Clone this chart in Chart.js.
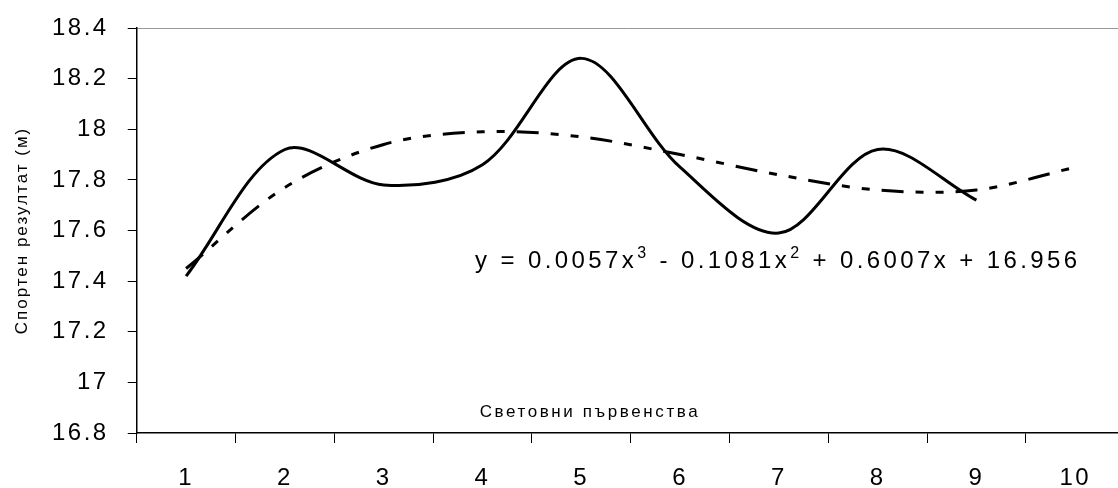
<!DOCTYPE html>
<html>
<head>
<meta charset="utf-8">
<script src="https://cdn.jsdelivr.net/npm/chart.js@4/dist/chart.umd.min.js"></script>
<style>
    html, body { margin: 0; padding: 0; background: #fff; overflow: hidden; }
    #chart { display: block; width: 1118px; height: 488px; }
</style>
</head>
<body>
<canvas id="chart" width="1118" height="488"></canvas>
<script>
// Chart data
const categories = ['1', '2', '3', '4', '5', '6', '7', '8', '9', '10'];
const results = [17.42, 17.92, 17.78, 17.86, 18.28, 17.85, 17.59, 17.92, 17.72, null];
const trendValues = [17.45, 17.77, 17.94, 17.99, 17.97, 17.90, 17.82, 17.76, 17.76, 17.85];
const yTicks = [16.8, 17, 17.2, 17.4, 17.6, 17.8, 18, 18.2, 18.4];

const FONT = 'Arial, "Liberation Sans", sans-serif';

// Excel draws its text with wide letter spacing
const spacingPlugin = {
    id: 'spacing',
    beforeLayout(chart) { chart.ctx.letterSpacing = '2.5px'; },
    beforeDraw(chart) { chart.ctx.letterSpacing = '2.5px'; }
};

// Axis titles and trendline equation
const textPlugin = {
    id: 'texts',
    afterDraw(chart) {
        const ctx = chart.ctx;
        const area = chart.chartArea;
        ctx.save();
        ctx.fillStyle = '#000';

        // y axis title
        ctx.font = '17px ' + FONT;
        ctx.letterSpacing = '2px';
        ctx.textAlign = 'center';
        ctx.textBaseline = 'middle';
        ctx.save();
        ctx.translate(22, (area.top + area.bottom) / 2);
        ctx.rotate(-Math.PI / 2);
        ctx.fillText('Спортен резултат (м)', 0, 0);
        ctx.restore();

        // x axis title, inside the plot
        ctx.letterSpacing = '2.6px';
        ctx.fillText('Световни първенства', 590, 412);

        // equation with superscripts
        const parts = [
            ['y = 0.0057x', false], ['3', true],
            [' - 0.1081x', false], ['2', true],
            [' + 0.6007x + 16.956', false]
        ];
        ctx.textAlign = 'left';
        ctx.textBaseline = 'alphabetic';
        ctx.letterSpacing = '3.4px';
        let x = 475;
        const base = 268;
        parts.forEach(([txt, sup]) => {
            ctx.font = (sup ? '16px ' : '24px ') + FONT;
            ctx.fillText(txt, x, sup ? base - 10 : base);
            x += ctx.measureText(txt).width;
        });
        ctx.restore();
    }
};

const ctx = document.getElementById('chart').getContext('2d');
new Chart(ctx, {
    type: 'line',
    data: {
        labels: categories,
        datasets: [
            {
                label: 'Резултат',
                data: results,
                borderColor: '#000',
                borderWidth: 3,
                pointRadius: 0,
                tension: 0.33,
                fill: false
            },
            {
                label: 'Тренд',
                data: trendValues,
                borderColor: '#000',
                borderWidth: 3,
                borderDash: [22, 12, 8, 12, 8, 12],
                pointRadius: 0,
                tension: 0.33,
                fill: false
            }
        ]
    },
    options: {
        responsive: false,
        devicePixelRatio: 1,
        animation: false,
        layout: {
            padding: { left: 33, right: 0, top: 28, bottom: 0 }
        },
        plugins: {
            legend: { display: false },
            tooltip: { enabled: false }
        },
        scales: {
            x: {
                type: 'linear',
                min: 0.5,
                max: 10.433,
                afterBuildTicks(scale) {
                    scale.ticks = categories.map(c => ({ value: Number(c) }));
                },
                afterFit(scale) {
                    scale.height = 55;
                    scale.paddingLeft = 0;
                    scale.paddingRight = 0;
                },
                grid: {
                    offset: true,
                    drawOnChartArea: false,
                    tickLength: 10,
                    tickColor: '#000'
                },
                border: { color: '#000', width: 1.5 },
                ticks: {
                    color: '#000',
                    font: { family: FONT, size: 24 },
                    padding: 21,
                    maxRotation: 0,
                    autoSkip: false,
                    callback: (v) => String(v)
                }
            },
            y: {
                min: 16.8,
                max: 18.4,
                afterBuildTicks(scale) {
                    scale.ticks = yTicks.map(v => ({ value: v }));
                },
                afterFit(scale) {
                    scale.paddingTop = 0;
                    scale.paddingBottom = 0;
                },
                grid: {
                    tickLength: 9,
                    tickColor: '#000',
                    color: (c) => c.tick && c.tick.value === 18.4 ? '#999' : 'rgba(0,0,0,0)'
                },
                border: { color: '#000', width: 1.5 },
                ticks: {
                    color: '#000',
                    font: { family: FONT, size: 24 },
                    padding: 19,
                    callback: (v) => String(Math.round(v * 10) / 10)
                }
            }
        }
    },
    plugins: [spacingPlugin, textPlugin]
});
</script>
</body>
</html>
